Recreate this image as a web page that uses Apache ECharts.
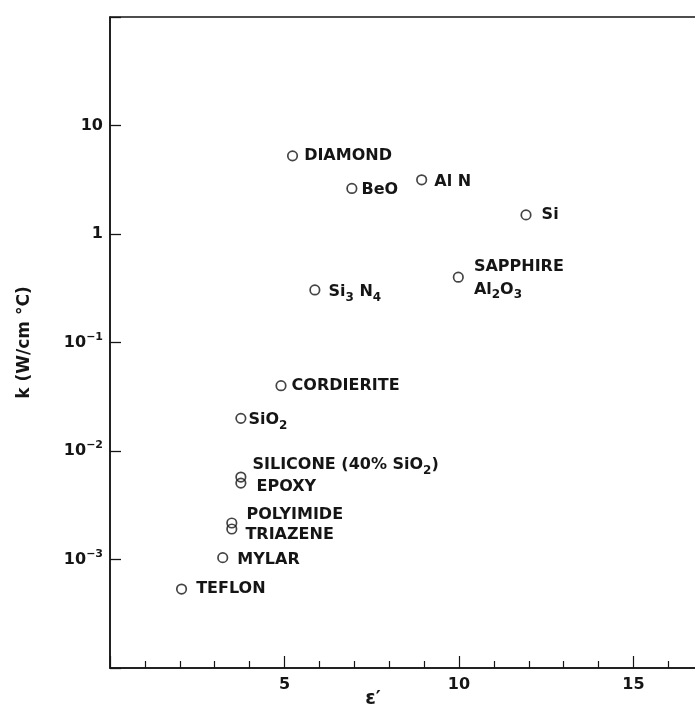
<!DOCTYPE html>
<html>
<head>
<meta charset="utf-8">
<script src="https://cdn.jsdelivr.net/npm/echarts@6/dist/echarts.min.js"></script>
<style>
html,body{margin:0;padding:0;background:#fff;}
#chart{width:695px;height:713px;}
</style>
</head>
<body>
<div id="chart"></div>
<script>
// ---- data ----
const materials = ['DIAMOND','BeO','AlN','Si','SAPPHIRE','Si3N4','CORDIERITE','SiO2','SILICONE','EPOXY','POLYIMIDE','TRIAZENE','MYLAR','TEFLON'];
const permittivity = [5.23, 6.93, 8.93, 11.92, 9.98, 5.87, 4.90, 3.75, 3.75, 3.75, 3.49, 3.49, 3.23, 2.05];
const conductivity = [5.25, 2.63, 3.16, 1.50, 0.40, 0.305, 0.040, 0.020, 0.00575, 0.00506, 0.00217, 0.00191, 0.00104, 0.000534];
const labelTexts = [
  '{t|DIAMOND}',
  '{t|BeO}',
  '{t|Al N}',
  '{t|Si}',
  '{t|SAPPHIRE}\n{t|Al}{s|2}{t|O}{s|3}',
  '{t|Si}{s|3}{t| N}{s|4}',
  '{t|CORDIERITE}',
  '{t|SiO}{s|2}',
  '{t|SILICONE (40% SiO}{s|2}{t|)}',
  '{t|EPOXY}',
  '{t|POLYIMIDE}',
  '{t|TRIAZENE}',
  '{t|MYLAR}',
  '{t|TEFLON}'
];
const yTickValues = [0.001, 0.01, 0.1, 1, 10];
const yTickLabels = ['{a|10}{p|−3}', '{a|10}{p|−2}', '{a|10}{p|−1}', '{a|1}', '{a|10}'];
const xTickLabels = [5, 10, 15];
const xAxisName = 'ε′';
const yAxisName = 'k (W/cm °C)';

// ---- label placement (distance from marker, vertical shift) ----
const labelPlacement = {
  DIAMOND: [6, 0], BeO: [4, 1], AlN: [7, 2], Si: [10, 0], SAPPHIRE: [10, 1],
  Si3N4: [8, 2], CORDIERITE: [5, 0], SiO2: [2, 2], SILICONE: [6, -12],
  EPOXY: [10, 4], POLYIMIDE: [9, -8], TRIAZENE: [8, 6], MYLAR: [9, 2], TEFLON: [9, 0]
};

const FONT = 'DejaVu Sans';
const INK = '#151515';

const chart = echarts.init(document.getElementById('chart'), null, {renderer: 'canvas'});

const option = {
  backgroundColor: '#ffffff',
  animation: false,
  grid: {
    left: 110, top: 17, width: 698, height: 651,
    containLabel: false,
    outerBoundsMode: 'none',
    show: true, borderColor: INK, borderWidth: 1.5, backgroundColor: 'transparent'
  },
  xAxis: {
    type: 'value',
    min: 0, max: 20, interval: 5,
    name: xAxisName,
    nameLocation: 'middle',
    nameGap: 22,
    nameMoveOverlap: false,
    nameTextStyle: {fontFamily: FONT, fontWeight: 'bold', fontSize: 19, color: INK, padding: [0, 172, 0, 0]},
    axisLine: {show: true, lineStyle: {color: INK, width: 1.5}},
    axisTick: {show: true, inside: true, length: 12, lineStyle: {color: INK, width: 1.2}},
    minorTick: {show: true, splitNumber: 5, length: 7, lineStyle: {color: INK, width: 1.2}},
    splitLine: {show: false},
    minorSplitLine: {show: false},
    axisLabel: {
      margin: 9,
      fontFamily: FONT, fontWeight: 'bold', fontSize: 16, color: INK,
      formatter: v => (xTickLabels.indexOf(v) >= 0 ? String(v) : '')
    }
  },
  yAxis: {
    type: 'log',
    logBase: 10,
    min: 0.0001, max: 100,
    splitNumber: 6,
    name: yAxisName,
    nameLocation: 'middle',
    nameGap: 77,
    nameMoveOverlap: false,
    nameRotate: 90,
    nameTextStyle: {fontFamily: FONT, fontWeight: 'bold', fontSize: 17, color: INK},
    axisLine: {show: true, lineStyle: {color: INK, width: 1.5}},
    axisTick: {show: true, inside: true, length: 11, lineStyle: {color: INK, width: 1.3}},
    splitLine: {show: false},
    axisLabel: {
      margin: 7,
      formatter: v => {
        for (let i = 0; i < yTickValues.length; i++) {
          if (Math.abs(Math.log10(v) - Math.log10(yTickValues[i])) < 1e-6) return yTickLabels[i];
        }
        return '';
      },
      rich: {
        a: {fontFamily: FONT, fontWeight: 'bold', fontSize: 16, color: INK, lineHeight: 22},
        p: {fontFamily: FONT, fontWeight: 'bold', fontSize: 11, color: INK, lineHeight: 11, verticalAlign: 'top'}
      }
    }
  },
  series: [{
    type: 'scatter',
    symbol: 'circle',
    symbolSize: 9.5,
    itemStyle: {color: 'rgba(0,0,0,0)', borderColor: INK, borderWidth: 1.7},
    emphasis: {disabled: true},
    label: {
      show: true,
      position: 'right',
      color: INK,
      opacity: 1,
      formatter: p => labelTexts[p.dataIndex],
      rich: {
        t: {fontFamily: FONT, fontWeight: 'bold', fontSize: 16, color: INK, lineHeight: 23},
        s: {fontFamily: FONT, fontWeight: 'bold', fontSize: 12, color: INK, lineHeight: 12, verticalAlign: 'bottom'}
      }
    },
    data: materials.map((m, i) => ({
      name: m,
      value: [permittivity[i], conductivity[i]],
      label: {distance: labelPlacement[m][0], offset: [0, labelPlacement[m][1]]}
    }))
  }]
};

chart.setOption(option);
</script>
</body>
</html>
